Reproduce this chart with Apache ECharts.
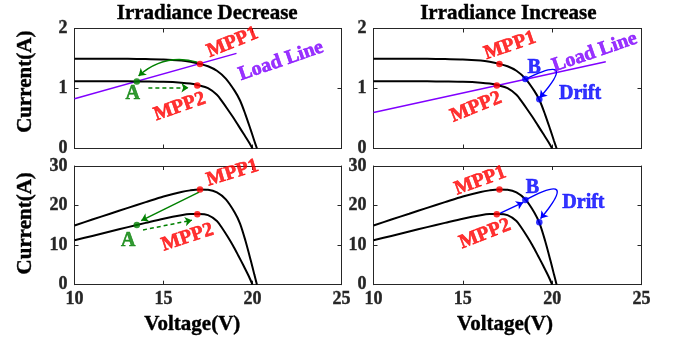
<!DOCTYPE html>
<html>
<head>
<meta charset="utf-8">
<script src="https://cdn.jsdelivr.net/npm/echarts/dist/echarts.min.js"></script>
<style>
  html, body { margin: 0; padding: 0; background: #fff; }
  #main { width: 673px; height: 339px; }
</style>
</head>
<body>
<div id="main"></div>
<script>
// values
var volt1  = [10, 11, 12, 13, 14, 15, 16, 16.5, 17, 17.5, 18, 18.5, 19, 19.3, 19.6, 19.9, 20.1, 20.25];
var curr1  = [1.497, 1.496, 1.495, 1.494, 1.49, 1.485, 1.465, 1.445, 1.415, 1.37, 1.295, 1.165, 0.96, 0.80, 0.57, 0.31, 0.13, 0];
var power1 = [14.97, 16.46, 17.94, 19.42, 20.86, 22.28, 23.44, 23.84, 24.06, 23.98, 23.31, 21.55, 18.24, 15.44, 11.17, 6.17, 2.61, 0];

var volt2  = [10, 11, 12, 13, 14, 15, 16, 16.5, 17, 17.5, 18, 18.3, 18.6, 18.9, 19.2, 19.5, 19.8, 20.0];
var curr2  = [1.122, 1.121, 1.12, 1.119, 1.116, 1.111, 1.097, 1.082, 1.052, 1.005, 0.895, 0.78, 0.655, 0.525, 0.385, 0.245, 0.105, 0];
var power2 = [11.22, 12.33, 13.44, 14.55, 15.62, 16.67, 17.55, 17.85, 17.88, 17.59, 16.11, 14.27, 12.18, 9.92, 7.39, 4.78, 2.08, 0];

var voltTicks = [10, 15, 20, 25];
var currTicks = [0, 1, 2];
var powerTicks = [0, 10, 20, 30];

// load lines [V, I]
var loadDec = [[10, 0.83], [19.1, 1.585]];
var loadInc = [[10, 0.6], [23, 1.445]];

// operating points
var mpp1IV = [17.05, 1.41], mpp2IV = [16.9, 1.05], aIV = [13.5, 1.118], bIV = [18.5, 1.157], driftIV = [19.28, 0.82];
var mpp1PV = [17.05, 24.05], mpp2PV = [16.9, 17.8], aPV = [13.5, 15.1], bPV = [18.5, 21.4], driftPV = [19.28, 15.8];

var titles = ['Irradiance Decrease', 'Irradiance Increase'];

var serif = '"Liberation Serif", "Times New Roman", serif';
var axisColor = '#262626';
var RED = '#ff0000', GREEN = '#008000', BLUE = '#0000ff', PURPLE = '#8000ff';

function pairs(xs, ys) {
  var out = [];
  for (var i = 0; i < xs.length; i++) out.push([xs[i], ys[i]]);
  return out;
}

var grids = [
  {left: 74.5, top: 28.5, width: 267, height: 120},
  {left: 373.5, top: 28.5, width: 268, height: 120},
  {left: 74.5, top: 166, width: 267, height: 118.7},
  {left: 373.5, top: 166, width: 268, height: 118.7}
];
grids.forEach(function (g) { g.outerBoundsMode = 'none'; g.containLabel = false; });

var tickFont = {fontFamily: serif, fontWeight: 'bold', fontSize: 18, color: axisColor,
  textBorderColor: axisColor, textBorderWidth: 0.4};

var xAxes = [], yAxes = [];
for (var g = 0; g < 4; g++) {
  ['bottom', 'top'].forEach(function (pos) {
    xAxes.push({
      gridIndex: g, type: 'value', position: pos,
      min: voltTicks[0], max: voltTicks[voltTicks.length - 1], interval: voltTicks[1] - voltTicks[0],
      axisLine: {show: true, onZero: false, lineStyle: {color: axisColor, width: 1}},
      axisTick: {show: true, inside: true, length: 4, lineStyle: {color: axisColor}},
      axisLabel: echarts.util.extend({show: pos == 'bottom' && g >= 2, margin: 6}, tickFont),
      splitLine: {show: false}
    });
  });
  var ticks = g < 2 ? currTicks : powerTicks;
  ['left', 'right'].forEach(function (pos) {
    yAxes.push({
      gridIndex: g, type: 'value', position: pos,
      min: ticks[0], max: ticks[ticks.length - 1], interval: ticks[1] - ticks[0],
      axisLine: {show: true, onZero: false, lineStyle: {color: axisColor, width: 1}},
      axisTick: {show: true, inside: true, length: 4, lineStyle: {color: axisColor}},
      axisLabel: echarts.util.extend({show: pos == 'left', margin: 7}, tickFont),
      splitLine: {show: false}
    });
  });
}

var series = [];

function curve(g, data) {
  series.push({
    type: 'line', xAxisIndex: 2 * g, yAxisIndex: 2 * g, data: data,
    symbol: 'none', smooth: 0.3, lineStyle: {color: '#000', width: 2}, z: 3
  });
}
function loadLine(g, data) {
  series.push({
    type: 'line', xAxisIndex: 2 * g, yAxisIndex: 2 * g, data: data,
    symbol: 'none', lineStyle: {color: PURPLE, width: 1.5}, z: 2
  });
}
function dots(g, pts) {
  series.push({
    type: 'scatter', xAxisIndex: 2 * g, yAxisIndex: 2 * g, symbolSize: 6.5, z: 6,
    data: pts.map(function (p) { return {value: p[0], itemStyle: {color: p[1]}}; })
  });
}
// arrows: [from, to, color, dashed, curveness]
function arrows(g, list) {
  series.push({
    type: 'lines', coordinateSystem: 'cartesian2d', xAxisIndex: 2 * g, yAxisIndex: 2 * g,
    symbol: ['none', 'arrow'], symbolSize: 7, z: 5,
    data: list.map(function (a) {
      return {
        coords: [a[0], a[1]],
        lineStyle: {color: a[2], width: 1.5, type: a[3] ? [4, 3] : 'solid', curveness: a[4] || 0, opacity: 1}
      };
    })
  });
}
// notes: [text, V, y, color, rotate]
function notes(g, list) {
  series.push({
    type: 'scatter', xAxisIndex: 2 * g, yAxisIndex: 2 * g, symbolSize: 0, z: 7,
    itemStyle: {color: 'transparent'},
    data: list.map(function (n) {
      return {
        name: n[0], value: [n[1], n[2]],
        label: {show: true, position: 'inside', formatter: '{b}', rotate: n[4] || 0, color: n[3],
          textBorderWidth: 0.6, textBorderColor: n[3],
          fontFamily: serif, fontWeight: 'bold', fontSize: 20}
      };
    })
  });
}

// top left: I-V, irradiance decrease
curve(0, pairs(volt1, curr1));
curve(0, pairs(volt2, curr2));
loadLine(0, loadDec);
arrows(0, [
  [[16.9, 1.44], [13.6, 1.21], GREEN, false, -0.27],
  [[14.15, 1.012], [16.4, 1.012], GREEN, true]
]);
dots(0, [[mpp1IV, RED], [mpp2IV, RED], [aIV, GREEN]]);
notes(0, [
  ['MPP1', 18.88, 1.766, RED, 22],
  ['Load Line', 21.6, 1.457, PURPLE, 19],
  ['MPP2', 15.91, 0.694, RED, 19],
  ['A', 13.27, 0.918, GREEN]
]);

// top right: I-V, irradiance increase
curve(1, pairs(volt1, curr1));
curve(1, pairs(volt2, curr2));
loadLine(1, loadInc);
arrows(1, [
  [[18.5, 1.157], [19.3, 0.845], BLUE, false, 2.5]
]);
dots(1, [[mpp1IV, RED], [mpp2IV, RED], [bIV, BLUE], [driftIV, BLUE]]);
notes(1, [
  ['MPP1', 17.64, 1.713, RED, 19],
  ['B', 18.99, 1.346, BLUE],
  ['Load Line', 22.38, 1.603, PURPLE, 19],
  ['Drift', 21.56, 0.918, BLUE],
  ['MPP2', 15.74, 0.69, RED, 22]
]);

// bottom left: P-V, irradiance decrease
curve(2, pairs(volt1, power1));
curve(2, pairs(volt2, power2));
arrows(2, [
  [[17.0, 23.4], [13.75, 16.2], GREEN, false],
  [[13.85, 13.85], [16.6, 16.3], GREEN, true]
]);
dots(2, [[mpp1PV, RED], [mpp2PV, RED], [aPV, GREEN]]);
notes(2, [
  ['MPP1', 18.88, 28.2, RED, 17],
  ['A', 13.02, 11.04, GREEN],
  ['MPP2', 16.35, 11.93, RED, 18]
]);

// bottom right: P-V, irradiance increase
curve(3, pairs(volt1, power1));
curve(3, pairs(volt2, power2));
arrows(3, [
  [[17.1, 18.1], [18.38, 20.8], BLUE, false],
  [[18.5, 21.4], [19.35, 16.7], BLUE, false, 2.55]
]);
dots(3, [[mpp1PV, RED], [mpp2PV, RED], [bPV, BLUE], [driftPV, BLUE]]);
notes(3, [
  ['MPP1', 15.98, 26.26, RED, 20],
  ['B', 18.89, 24.5, BLUE],
  ['Drift', 21.75, 20.77, BLUE],
  ['MPP2', 16.24, 12.81, RED, 21]
]);

function txt(s, x, y, size, rot) {
  return {
    type: 'text', x: x, y: y, rotation: rot || 0, silent: true,
    style: {text: s, fill: '#000', stroke: '#000', lineWidth: 0.4,
      font: 'bold ' + size + 'px ' + serif, align: 'center', verticalAlign: 'middle'}
  };
}

var myChart = echarts.init(document.getElementById('main'), null, {renderer: 'canvas'});
myChart.setOption({
  animation: false,
  backgroundColor: '#fff',
  grid: grids,
  xAxis: xAxes,
  yAxis: yAxes,
  series: series,
  graphic: [
    txt(titles[0], 207.2, 14, 21),
    txt(titles[1], 508.3, 14, 21),
    txt('Current(A)', 25.7, 81.7, 21, Math.PI / 2),
    txt('Current(A)', 25.5, 223.3, 21, Math.PI / 2),
    txt('Voltage(V)', 192.3, 324.5, 21),
    txt('Voltage(V)', 505, 324.5, 21)
  ]
});
</script>
</body>
</html>
